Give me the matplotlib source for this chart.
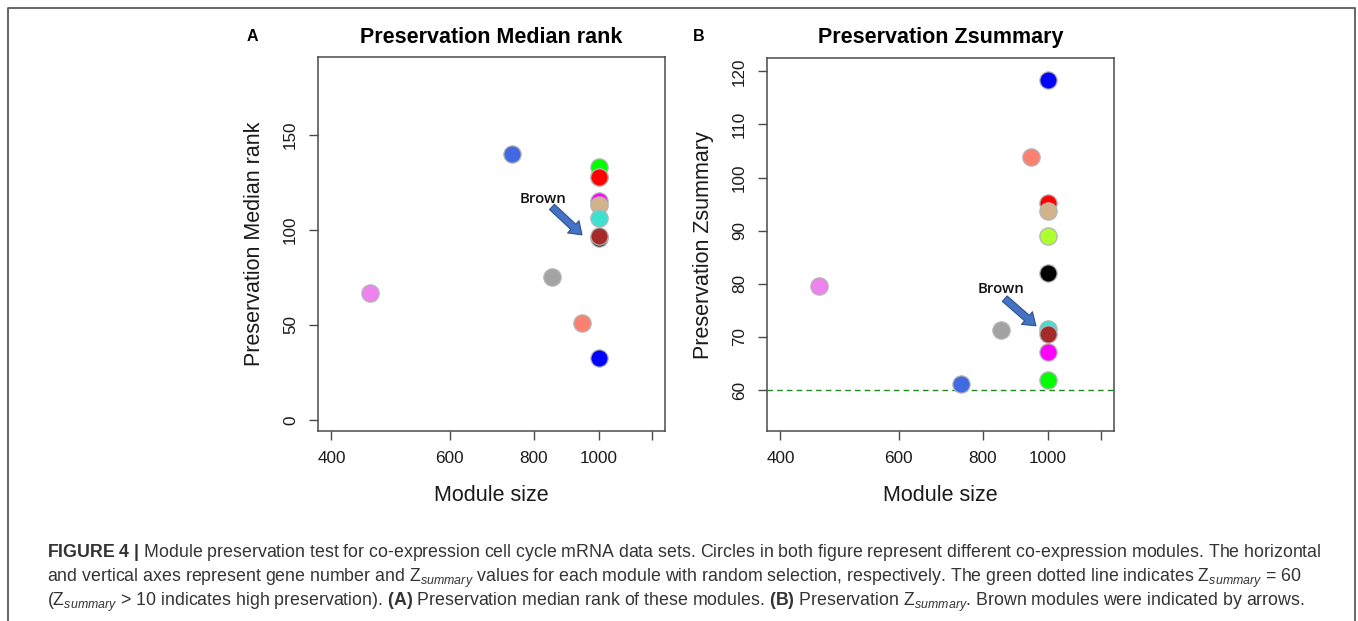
import matplotlib
matplotlib.use("Agg")
import matplotlib.pyplot as plt
from matplotlib.ticker import NullLocator, FixedLocator, FixedFormatter
from matplotlib.patches import FancyArrowPatch
from matplotlib.lines import Line2D

plt.rcParams['font.family'] = ['Liberation Sans', 'DejaVu Sans']
plt.rcParams['mathtext.fontset'] = 'custom'
plt.rcParams['mathtext.rm'] = 'Liberation Sans'
plt.rcParams['mathtext.it'] = 'Liberation Sans:italic'
plt.rcParams['mathtext.bf'] = 'Liberation Sans:bold'

# ---------------- data ----------------
modules = ['black', 'blue', 'brown', 'green', 'greenyellow', 'grey', 'magenta',
           'red', 'royalblue', 'salmon', 'tan', 'turquoise', 'violet']
module_colors = {'black': '#000000', 'blue': '#0000FF', 'brown': '#A52A2A',
                 'green': '#00FF00', 'greenyellow': '#ADFF2F', 'grey': '#A3A3A3',
                 'magenta': '#FF00FF', 'red': '#FF0000', 'royalblue': '#4169E1',
                 'salmon': '#FA8072', 'tan': '#D2B48C', 'turquoise': '#40E0D0',
                 'violet': '#EE82EE'}
module_size = {'black': 1000, 'blue': 1000, 'brown': 1000, 'green': 1000,
               'greenyellow': 1000, 'grey': 850, 'magenta': 1000, 'red': 1000,
               'royalblue': 741, 'salmon': 942, 'tan': 1000, 'turquoise': 1000,
               'violet': 457}
median_rank = {'black': 95.6, 'blue': 32.8, 'brown': 96.8, 'green': 133.3,
               'greenyellow': 128.0, 'grey': 75.0, 'magenta': 115.0, 'red': 128.0,
               'royalblue': 140.0, 'salmon': 51.0, 'tan': 113.2, 'turquoise': 106.1,
               'violet': 67.0}
zsummary = {'black': 82.1, 'blue': 118.4, 'brown': 70.6, 'green': 61.9,
            'greenyellow': 89.05, 'grey': 71.4, 'magenta': 67.1, 'red': 95.2,
            'royalblue': 61.1, 'salmon': 103.9, 'tan': 93.8, 'turquoise': 71.5,
            'violet': 79.6}
threshold_z = 60

x_ticks = [400, 600, 800, 1000, 1200]
x_tick_labels = ['400', '600', '800', '1000', '']
yticks_a = [0, 50, 100, 150]
yticks_b = [60, 70, 80, 90, 100, 110, 120]

# drawing order (which circle lies on top)
order_a = ['violet', 'royalblue', 'grey', 'salmon', 'blue', 'green', 'greenyellow',
           'red', 'magenta', 'tan', 'turquoise', 'black', 'brown']
order_b = ['violet', 'royalblue', 'grey', 'salmon', 'blue', 'red', 'tan',
           'greenyellow', 'black', 'turquoise', 'brown', 'magenta', 'green']

# ---------------- figure ----------------
W, H = 1358, 621
fig = plt.figure(figsize=(W / 100, H / 100), dpi=100)

def px_rect(l, t, r, b):
    return [l / W, 1 - b / H, (r - l) / W, (b - t) / H]

ax_a = fig.add_axes(px_rect(318, 57, 665, 431))
ax_b = fig.add_axes(px_rect(767, 57.5, 1114, 431))

SPINE = '#4a4a4a'
TXT = '#1a1a1a'

def style_axes(ax, yticks):
    ax.set_xscale('log')
    ax.set_xlim(382, 1253)
    ax.xaxis.set_major_locator(FixedLocator(x_ticks))
    ax.xaxis.set_major_formatter(FixedFormatter(x_tick_labels))
    ax.xaxis.set_minor_locator(NullLocator())
    ax.set_yticks(yticks)
    ax.set_yticklabels([str(v) for v in yticks], rotation=90, va='center')
    for s in ax.spines.values():
        s.set_color(SPINE)
        s.set_linewidth(1.1)
    ax.tick_params(axis='both', direction='out', length=6.8, width=1.0,
                   color=SPINE, labelsize=12.3, labelcolor=TXT)
    ax.tick_params(axis='x', pad=7.5)
    ax.tick_params(axis='y', pad=7.5)

def draw_points(ax, values, order):
    for i, m in enumerate(order):
        ax.scatter([module_size[m]], [values[m]], s=155, c=module_colors[m],
                   edgecolors='#b5b5b5', linewidths=0.9, zorder=3 + i * 0.01)

# Panel A
style_axes(ax_a, yticks_a)
ax_a.set_ylim(-5.8, 191)
draw_points(ax_a, median_rank, order_a)

# Panel B
style_axes(ax_b, yticks_b)
ax_b.set_ylim(52.3, 122.6)
ax_b.axhline(threshold_z, color='#1f8a1f', lw=1.0, ls=(0, (4, 3)), zorder=2)
draw_points(ax_b, zsummary, order_b)

# Titles / labels
for ax, title, letter, lx in [
        (ax_a, 'Preservation Median rank', 'A', 252),
        (ax_b, 'Preservation Zsummary', 'B', 699)]:
    bb = ax.get_position()
    cx = (bb.x0 + bb.x1) / 2
    fig.text(cx, 1 - 43 / H, title, ha='center', va='baseline',
             fontsize=15.5, fontweight='bold', color='#000000')
    fig.text(cx, 1 - 501 / H, 'Module size', ha='center', va='baseline',
             fontsize=15.5, color=TXT)
    fig.text(lx / W, 1 - 41 / H, letter, ha='center', va='baseline',
             fontsize=11.5, fontweight='bold', color='#000000')

fig.text(254 / W, 1 - 244 / H, 'Preservation Median rank', rotation=90,
         ha='center', va='center', fontsize=15.5, color=TXT)
fig.text(703 / W, 1 - 245 / H, 'Preservation Zsummary', rotation=90,
         ha='center', va='center', fontsize=15.5, color=TXT)

# Brown annotations with block arrows
ARROW_FACE = '#4472C4'
ARROW_EDGE = '#2F528F'
arrow_style = 'simple,head_width=12,head_length=8.5,tail_width=5.2'
ax_a.add_patch(FancyArrowPatch((851, 112.1), (943, 97.4), arrowstyle=arrow_style,
                               mutation_scale=1, fc=ARROW_FACE, ec=ARROW_EDGE,
                               lw=0.8, zorder=4, shrinkA=0, shrinkB=0))
fig.text(520 / W, 1 - 202.7 / H, 'Brown', ha='left', va='baseline',
         fontsize=10.8, fontweight='semibold', family=['Open Sans', 'DejaVu Sans'],
         color='#111111')
ax_b.add_patch(FancyArrowPatch((862, 77.2), (959, 72.1), arrowstyle=arrow_style,
                               mutation_scale=1, fc=ARROW_FACE, ec=ARROW_EDGE,
                               lw=0.8, zorder=4, shrinkA=0, shrinkB=0))
fig.text(978 / W, 1 - 292.7 / H, 'Brown', ha='left', va='baseline',
         fontsize=10.8, fontweight='semibold', family=['Open Sans', 'DejaVu Sans'],
         color='#111111')

# Caption
Zs = r'$\mathrm{Z}_{\mathit{summary}}$'
cap1 = (r'$\mathbf{FIGURE\ 4\ |}$ Module preservation test for co-expression cell cycle '
        r'mRNA data sets. Circles in both figure represent different co-expression '
        r'modules. The horizontal')
cap2 = ('and vertical axes represent gene number and ' + Zs +
        ' values for each module with random selection, respectively. '
        'The green dotted line indicates ' + Zs + ' = 60')
cap3 = ('(' + Zs + ' > 10 indicates high preservation). ' + r'$\mathbf{(A)}$' +
        ' Preservation median rank of these modules. ' + r'$\mathbf{(B)}$' +
        ' Preservation ' + Zs + '. Brown modules were indicated by arrows.')
for txt, base in [(cap1, 557), (cap2, 581.5), (cap3, 606)]:
    fig.text(47 / W, 1 - base / H, txt, ha='left', va='baseline',
             fontsize=12.75, color='#333333')

# Frame around the figure (open at the bottom)
fig.add_artist(Line2D([8 / W, 8 / W, 1355 / W, 1355 / W],
                      [0, 1 - 8 / H, 1 - 8 / H, 0],
                      transform=fig.transFigure, color='#5a5a5a', lw=1.3))

fig.savefig('out.png', dpi=100)
